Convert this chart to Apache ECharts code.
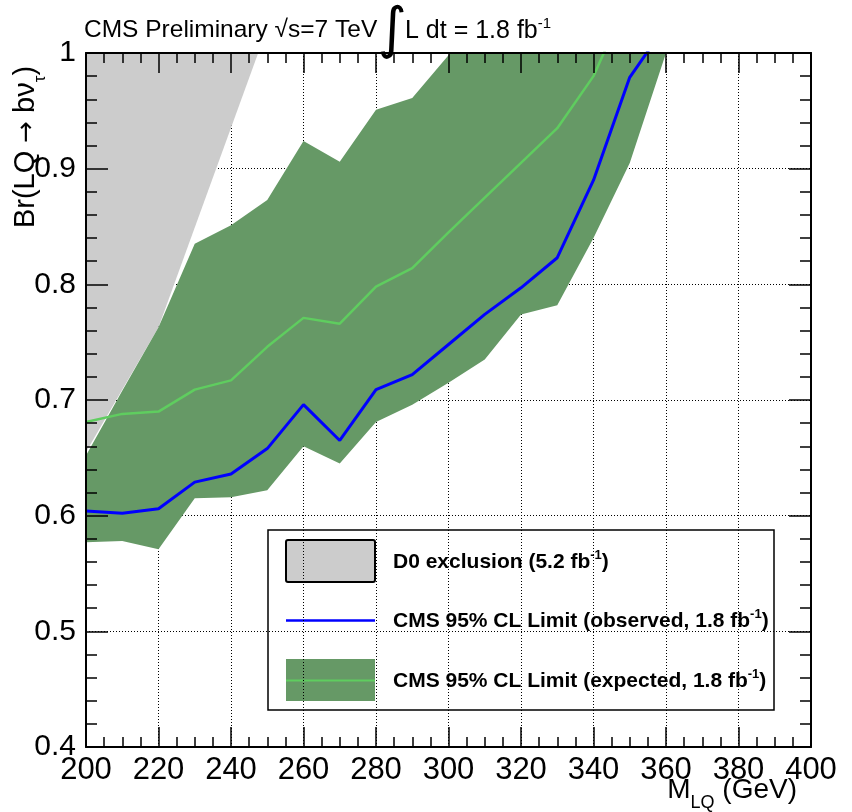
<!DOCTYPE html>
<html>
<head>
<meta charset="utf-8">
<script src="https://cdn.jsdelivr.net/npm/echarts@6/dist/echarts.min.js"></script>
<style>
  html, body { margin: 0; padding: 0; background: #ffffff; }
  #chart { width: 852px; height: 812px; }
</style>
</head>
<body>
<div id="chart"></div>
<script>
// Leptoquark mass points (GeV)
const massGrid = [200, 210, 220, 230, 240, 250, 260, 270, 280, 290, 300, 310, 320, 330, 340, 350, 360];

// CMS 95% CL observed limit on Br(LQ -> b nu_tau)
const observedLimit = [0.604, 0.602, 0.606, 0.629, 0.636, 0.658, 0.696, 0.665, 0.709, 0.722, 0.748, 0.774, 0.797, 0.823, 0.890, 0.979, 1.024];

// CMS 95% CL expected limit (median) and its band edges
const expectedLimit = [0.681, 0.688, 0.690, 0.709, 0.717, 0.746, 0.771, 0.766, 0.798, 0.814, 0.845, 0.875, 0.905, 0.935, 0.980, 1.050];
const bandLower = [0.577, 0.578, 0.571, 0.615, 0.616, 0.622, 0.660, 0.645, 0.681, 0.696, 0.715, 0.735, 0.774, 0.782, 0.840, 0.905, 1.000];
const bandUpper = [0.652, 0.708, 0.763, 0.835, 0.851, 0.873, 0.924, 0.906, 0.951, 0.961, 0.998, 1.040, 1.080, 1.120, 1.160, 1.200, 1.240];

// D0 excluded region boundary (mass, Br)
const d0Mass = [200, 220, 247.5];
const d0Br = [0.655, 0.763, 1.0];

// Axis tick labels
const xTickLabels = ['200', '220', '240', '260', '280', '300', '320', '340', '360', '380', '400'];
const yTickLabels = ['0.4', '0.5', '0.6', '0.7', '0.8', '0.9', '1'];

const X_MIN = 200, X_MAX = 400, X_STEP = 20;
const Y_MIN = 0.4, Y_MAX = 1.0, Y_STEP = 0.1;

const FONT = "'Liberation Sans', Arial, Helvetica, sans-serif";
const SYM_FONT = "'DejaVu Sans', 'Liberation Sans', sans-serif";
const COL_BAND = '#669966';
const COL_EXP = '#5fcd5f';
const COL_OBS = '#0000ff';
const COL_D0 = '#cccccc';

const chart = echarts.init(document.getElementById('chart'), null, { renderer: 'canvas' });

// Closed polygons built from the arrays above
const d0Polygon = d0Mass.map((m, i) => [m, d0Br[i]]).concat([[X_MIN, Y_MAX]]);
const bandPolygon = massGrid.map((m, i) => [m, bandUpper[i]])
  .concat(massGrid.map((m, i) => [m, bandLower[i]]).reverse());

function polygonSeries(name, pts, color, z) {
  return {
    type: 'custom',
    name: name,
    coordinateSystem: 'cartesian2d',
    xAxisIndex: 0,
    yAxisIndex: 0,
    clip: true,
    silent: true,
    z: z,
    data: [[pts[0][0], pts[0][1]]],
    renderItem: function (params, api) {
      return {
        type: 'polygon',
        shape: { points: pts.map(p => api.coord(p)) },
        style: { fill: color, stroke: null }
      };
    }
  };
}

const tickStyle = { color: '#000', width: 1.5 };

function frameAxis(position, isX) {
  return {
    type: 'value',
    position: position,
    min: isX ? X_MIN : Y_MIN,
    max: isX ? X_MAX : Y_MAX,
    interval: isX ? X_STEP : Y_STEP,
    z: 10,
    axisLine: { show: true, onZero: false, lineStyle: { color: '#000', width: 2 } },
    axisTick: { show: true, inside: true, length: isX ? 20 : 22, lineStyle: tickStyle },
    minorTick: { show: true, splitNumber: isX ? 4 : 5, length: isX ? 10 : 11, lineStyle: tickStyle },
    axisLabel: { show: false },
    splitLine: { show: false }
  };
}

const gridLine = { show: true, lineStyle: { color: '#000', width: 1, type: [1, 2] } };

const option = {
  animation: false,
  backgroundColor: '#ffffff',
  grid: { left: 86, top: 53, width: 725, height: 694, containLabel: false, outerBoundsMode: 'none' },
  xAxis: [
    {
      type: 'value', position: 'bottom', min: X_MIN, max: X_MAX, interval: X_STEP, z: 0,
      axisLine: { show: false, onZero: false }, axisTick: { show: false },
      splitLine: gridLine,
      axisLabel: {
        show: true, margin: 8, color: '#000', fontSize: 31, fontFamily: FONT,
        showMinLabel: true, showMaxLabel: true,
        formatter: v => xTickLabels[Math.round((v - X_MIN) / X_STEP)]
      }
    },
    frameAxis('bottom', true),
    frameAxis('top', true)
  ],
  yAxis: [
    {
      type: 'value', position: 'left', min: Y_MIN, max: Y_MAX, interval: Y_STEP, z: 0,
      axisLine: { show: false, onZero: false }, axisTick: { show: false },
      splitLine: gridLine,
      axisLabel: {
        show: true, margin: 10, color: '#000', fontSize: 30, fontFamily: FONT,
        showMinLabel: true, showMaxLabel: true,
        formatter: v => yTickLabels[Math.round((v - Y_MIN) / Y_STEP)]
      }
    },
    frameAxis('left', false),
    frameAxis('right', false)
  ],
  series: [
    polygonSeries('D0 exclusion', d0Polygon, COL_D0, 1),
    polygonSeries('CMS expected band', bandPolygon, COL_BAND, 2),
    {
      type: 'line', name: 'CMS expected', xAxisIndex: 0, yAxisIndex: 0,
      data: expectedLimit.map((v, i) => [massGrid[i], v]),
      showSymbol: false, clip: true, silent: true, z: 3,
      lineStyle: { color: COL_EXP, width: 2.5 }
    },
    {
      type: 'line', name: 'CMS observed', xAxisIndex: 0, yAxisIndex: 0,
      data: observedLimit.map((v, i) => [massGrid[i], v]),
      showSymbol: false, clip: true, silent: true, z: 4,
      lineStyle: { color: COL_OBS, width: 3 }
    }
  ],
  graphic: [
    // header
    {
      type: 'text', x: 84, y: 30, z: 20,
      style: { text: 'CMS Preliminary √s=7 TeV', font: `24.5px ${FONT}`, fill: '#000', verticalAlign: 'middle' }
    },
    {
      type: 'text', x: 392, y: 32, z: 20,
      style: { text: '∫', font: `56px ${SYM_FONT}`, fill: '#000', align: 'center', verticalAlign: 'middle' }
    },
    {
      type: 'text', x: 405, y: 30, z: 20,
      style: {
        text: '{n|L dt = 1.8 fb}{s|-1}', verticalAlign: 'middle',
        rich: {
          n: { fontSize: 25, fontFamily: FONT, lineHeight: 27, verticalAlign: 'bottom', fill: '#000' },
          s: { fontSize: 15, fontFamily: FONT, lineHeight: 15, verticalAlign: 'top', fill: '#000' }
        }
      }
    },
    // y axis title
    {
      type: 'text', x: 30, y: 147, rotation: Math.PI / 2, z: 20,
      style: {
        text: '{n|Br(LQ }{a|→}{n| bν}{s|τ}{n|)}', align: 'center', verticalAlign: 'middle',
        rich: {
          n: { fontSize: 29, fontFamily: FONT, lineHeight: 38, verticalAlign: 'top', fill: '#000' },
          a: { fontSize: 26, fontFamily: SYM_FONT, lineHeight: 38, verticalAlign: 'top', padding: [3, 0, 0, 0], fill: '#000' },
          s: { fontSize: 17, fontFamily: FONT, lineHeight: 17, verticalAlign: 'bottom', fill: '#000' }
        }
      }
    },
    // x axis title
    {
      type: 'text', x: 797, y: 794, z: 20,
      style: {
        text: '{n|M}{s|LQ}{n| (GeV)}', align: 'right', verticalAlign: 'middle',
        rich: {
          n: { fontSize: 28, fontFamily: FONT, lineHeight: 36, verticalAlign: 'top', fill: '#000' },
          s: { fontSize: 18, fontFamily: FONT, lineHeight: 18, verticalAlign: 'bottom', fill: '#000' }
        }
      }
    },
    // legend
    {
      type: 'group', z: 30,
      children: [
        { type: 'rect', shape: { x: 268, y: 530, width: 506, height: 180 }, style: { fill: '#fff', stroke: '#000', lineWidth: 1.5 } },
        { type: 'rect', shape: { x: 286, y: 540, width: 89, height: 42, r: 2 }, style: { fill: COL_D0, stroke: '#000', lineWidth: 2 } },
        { type: 'line', shape: { x1: 286, y1: 620.5, x2: 375, y2: 620.5 }, style: { stroke: COL_OBS, lineWidth: 2.5 } },
        { type: 'rect', shape: { x: 286, y: 659, width: 89, height: 42 }, style: { fill: COL_BAND } },
        { type: 'line', shape: { x1: 286, y1: 680.5, x2: 375, y2: 680.5 }, style: { stroke: COL_EXP, lineWidth: 2 } },
        {
          type: 'text', x: 393, y: 561,
          style: {
            text: '{b|D0 exclusion (5.2 fb}{s|-1}{b|)}', verticalAlign: 'middle',
            rich: {
              b: { fontSize: 21, fontWeight: 'bold', fontFamily: FONT, lineHeight: 24, verticalAlign: 'bottom', fill: '#000' },
              s: { fontSize: 13, fontWeight: 'bold', fontFamily: FONT, lineHeight: 13, verticalAlign: 'top', fill: '#000' }
            }
          }
        },
        {
          type: 'text', x: 393, y: 620,
          style: {
            text: '{b|CMS 95% CL Limit (observed, 1.8 fb}{s|-1}{b|)}', verticalAlign: 'middle',
            rich: {
              b: { fontSize: 21, fontWeight: 'bold', fontFamily: FONT, lineHeight: 24, verticalAlign: 'bottom', fill: '#000' },
              s: { fontSize: 13, fontWeight: 'bold', fontFamily: FONT, lineHeight: 13, verticalAlign: 'top', fill: '#000' }
            }
          }
        },
        {
          type: 'text', x: 393, y: 680,
          style: {
            text: '{b|CMS 95% CL Limit (expected, 1.8 fb}{s|-1}{b|)}', verticalAlign: 'middle',
            rich: {
              b: { fontSize: 21, fontWeight: 'bold', fontFamily: FONT, lineHeight: 24, verticalAlign: 'bottom', fill: '#000' },
              s: { fontSize: 13, fontWeight: 'bold', fontFamily: FONT, lineHeight: 13, verticalAlign: 'top', fill: '#000' }
            }
          }
        }
      ]
    }
  ]
};

chart.setOption(option);
</script>
</body>
</html>
